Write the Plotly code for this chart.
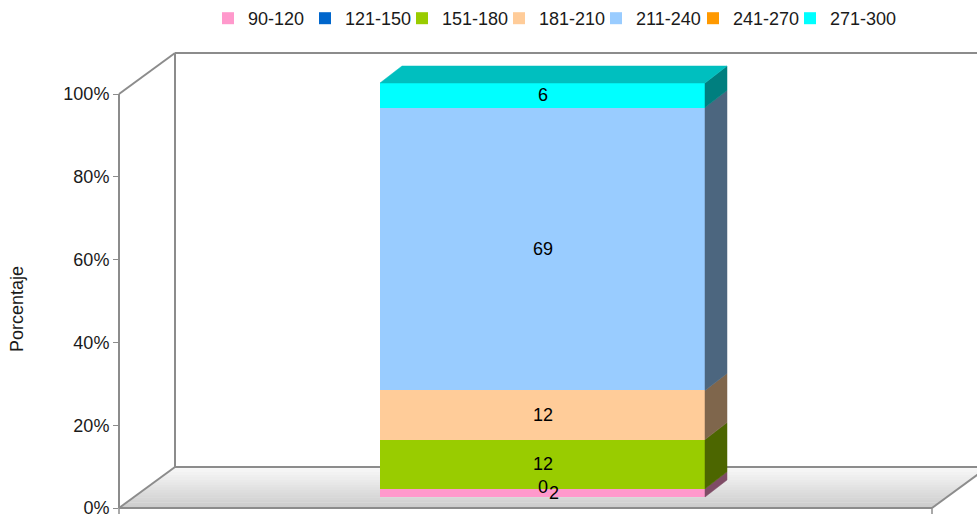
import plotly.graph_objects as go

# ---------------- data ----------------
categories = ["90-120", "121-150", "151-180", "181-210", "211-240", "241-270", "271-300"]
values = [2, 0, 12, 12, 69, None, 6]
colors = ["#FF99CC", "#0066CC", "#99CC00", "#FFCC99", "#99CCFF", "#FF9900", "#00FFFF"]
y_ticks = [0, 20, 40, 60, 80, 100]
y_ticktext = ["0%", "20%", "40%", "60%", "80%", "100%"]
y_title = "Porcentaje"

# ---------------- geometry / style (pixels) ----------------
W, H = 977, 518
AX_X, Y0, Y100 = 119, 508, 94          # front value axis
DEPTH = (56, -41)                      # wall depth offset
FLOOR_R = 932                          # right front corner of floor
BAR_L, BAR_R, BAR_B, BAR_T = 380, 705, 497, 83
BAR_D = (22, -17)                      # bar depth offset
LINE = "#8C8C8C"
FONT = "Liberation Sans, Arial, sans-serif"
label_xshift = [11, 0, 0, 0, 0, 0, 0]
label_yshift = [0, 2, 0, 0, 0, 0, 0]


def pp(x, y):
    return x / W, 1 - y / H


def shade(hexc, f):
    hexc = hexc.lstrip("#")
    r, g, b = (int(hexc[i:i + 2], 16) for i in (0, 2, 4))
    return "rgb(%d,%d,%d)" % (r * f, g * f, b * f)


# axis ranges so that the bar lands in the right pixel box
bw = BAR_R - BAR_L
x_range = [-0.5 - BAR_L / bw, 0.5 + (W - BAR_R) / bw]
ppu = (BAR_B - BAR_T) / 100.0
y2_range = [-(H - BAR_B) / ppu, 100 + BAR_T / ppu]
dx = BAR_D[0] / bw
dy = -BAR_D[1] / ppu

fig = go.Figure()

# dummy trace so the tick axis renders
fig.add_trace(go.Scatter(x=[None], y=[None], xaxis="x", yaxis="y", showlegend=False, hoverinfo="skip"))

# stacked bars (front faces)
for i, (cat, v, c) in enumerate(zip(categories, values, colors)):
    fig.add_trace(go.Bar(
        x=[0], y=[v], name=cat, width=1, xaxis="x", yaxis="y2",
        marker=dict(color=c, line=dict(width=0)), hoverinfo="skip",
        legendwidth=(75 if i == len(categories) - 1 else 52),
    ))

# side and top faces (computed from normalized cumulative data)
total = sum(v for v in values if v is not None)
cum = 0.0
annotations = []
top_color = None
for i, (v, c) in enumerate(zip(values, colors)):
    if v is None:
        continue
    b = cum
    t = cum + v / total * 100.0
    cum = t
    if t > b:
        fig.add_trace(go.Scatter(
            x=[0.5, 0.5 + dx, 0.5 + dx, 0.5, 0.5],
            y=[b, b + dy, t + dy, t, b],
            xaxis="x", yaxis="y2", mode="lines", fill="toself",
            fillcolor=shade(c, 0.5), line=dict(color=shade(c, 0.5), width=0.5),
            showlegend=False, hoverinfo="skip",
        ))
        top_color = c
    annotations.append(dict(
        x=0, y=(b + t) / 2, xref="x", yref="y2", text=str(v), showarrow=False,
        xshift=label_xshift[i], yshift=label_yshift[i],
        font=dict(family=FONT, size=18, color="#000000"),
    ))

fig.add_trace(go.Scatter(
    x=[-0.5, 0.5, 0.5 + dx, -0.5 + dx, -0.5],
    y=[100, 100, 100 + dy, 100 + dy, 100],
    xaxis="x", yaxis="y2", mode="lines", fill="toself",
    fillcolor=shade(top_color, 0.75), line=dict(color=shade(top_color, 0.75), width=0.5),
    showlegend=False, hoverinfo="skip",
))

# ---------------- 3D walls / floor ----------------
shapes = []
NB = 16
for k in range(NB):
    t0, t1 = k / NB, (k + 1) / NB
    g = int(204 + (250 - 204) * (k + 0.5) / NB)
    pts = [
        pp(AX_X + DEPTH[0] * t0, Y0 + DEPTH[1] * t0),
        pp(FLOOR_R + DEPTH[0] * t0, Y0 + DEPTH[1] * t0),
        pp(FLOOR_R + DEPTH[0] * t1 + 1, Y0 + DEPTH[1] * t1 - 0.5),
        pp(AX_X + DEPTH[0] * t1, Y0 + DEPTH[1] * t1 - 0.5),
    ]
    path = "M %f %f L %f %f L %f %f L %f %f Z" % tuple(c for p in pts for c in p)
    shapes.append(dict(type="path", path=path, xref="paper", yref="paper",
                       fillcolor="rgb(%d,%d,%d)" % (g, g, g), line=dict(width=0), layer="below"))


def seg(x0, y0, x1, y1, w=2):
    a, b = pp(x0, y0)
    c, d = pp(x1, y1)
    shapes.append(dict(type="line", x0=a, y0=b, x1=c, y1=d, xref="paper", yref="paper",
                       line=dict(color=LINE, width=w), layer="below"))


BX, BY0, BY100 = AX_X + DEPTH[0], Y0 + DEPTH[1], Y100 + DEPTH[1]
seg(AX_X, Y100, BX, BY100)
seg(AX_X, Y0, BX, BY0)
seg(BX, BY100, BX, BY0)
seg(BX, BY100, W + 20, BY100)
seg(BX, BY0, FLOOR_R + DEPTH[0], BY0)
seg(AX_X, Y0, FLOOR_R, Y0)
seg(FLOOR_R, Y0, FLOOR_R + DEPTH[0], BY0)
seg(AX_X, Y0, AX_X, Y0 + 6, 1.5)
seg(FLOOR_R, Y0, FLOOR_R, Y0 + 6, 1.5)

annotations.append(dict(
    x=17 / W, y=1 - 309 / H, xref="paper", yref="paper", text=y_title, textangle=-90,
    xanchor="center", yanchor="middle",
    showarrow=False, font=dict(family=FONT, size=18, color="#1a1a1a"),
))

fig.update_layout(
    width=W, height=H,
    margin=dict(l=0, r=0, t=0, b=0, pad=0, autoexpand=False),
    paper_bgcolor="white", plot_bgcolor="rgba(0,0,0,0)",
    barmode="stack", barnorm="percent",
    showlegend=True,
    legend=dict(orientation="h", x=208 / W, xanchor="left", y=1, yanchor="top",
                traceorder="normal", itemwidth=30,
                font=dict(family=FONT, size=18, color="#1a1a1a"), bgcolor="rgba(0,0,0,0)"),
    xaxis=dict(domain=[0, 1], range=x_range, visible=False, fixedrange=True),
    yaxis=dict(domain=[(H - Y0) / H, (H - Y100) / H], range=[0, 100], anchor="free",
               position=AX_X / W, tickvals=y_ticks, ticktext=y_ticktext, ticks="outside",
               ticklen=5, tickcolor=LINE, showline=True, linecolor=LINE, linewidth=2,
               showgrid=False, zeroline=False, ticklabeloverflow="allow",
               tickfont=dict(family=FONT, size=18, color="#1a1a1a")),
    yaxis2=dict(domain=[0, 1], range=y2_range, anchor="x", visible=False,
                showgrid=False, zeroline=False),
    shapes=shapes, annotations=annotations,
    font=dict(family=FONT),
)

fig.write_html("out.html", config={"displayModeBar": False},
               post_script="document.body.style.margin='0';document.body.style.overflow='hidden';")
